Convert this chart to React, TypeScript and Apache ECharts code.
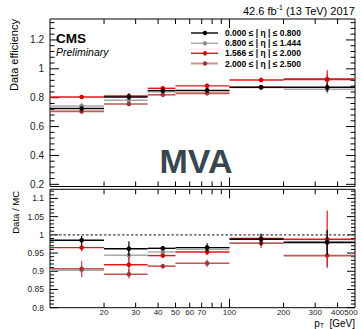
import React, { useEffect, useRef } from "react";
import * as echarts from "echarts";

// ---- data ----
const binLow = [10, 20, 35, 50, 100, 200];
const binHigh = [20, 35, 50, 100, 200, 500];
const binCenter = [15, 27.5, 42.5, 75, 150, 350];

const seriesNames = [
  "0.000 ≤ | η | ≤ 0.800",
  "0.800 ≤ | η | ≤ 1.444",
  "1.566 ≤ | η | ≤ 2.000",
  "2.000 ≤ | η | ≤ 2.500",
];

// efficiency (top panel)
const effBlack = [0.725, 0.805, 0.849, 0.851, 0.872, 0.872];
const effBlackErr = [0.02, 0.02, 0.012, 0.015, 0.012, 0.03];
const effGray = [0.742, 0.782, 0.84, 0.84, 0.87, 0.858];
const effGrayErr = [0.025, 0.02, 0.012, 0.015, 0.015, 0.03];
const effRed = [0.805, 0.812, 0.865, 0.882, 0.923, 0.925];
const effRedErr = [0.008, 0.02, 0.01, 0.01, 0.015, 0.065];
const effRose = [0.705, 0.756, 0.82, 0.83, 0.872, 0.93];
const effRoseErr = [0.015, 0.01, 0.008, 0.01, 0.015, 0.03];

// data / MC (bottom panel)
const sfBlack = [0.985, 0.962, 0.963, 0.965, 0.988, 0.979];
const sfBlackErr = [0.012, 0.02, 0.004, 0.012, 0.015, 0.034];
const sfGray = [0.903, 0.944, 0.953, 0.96, 0.977, 0.982];
const sfGrayErr = [0.02, 0.02, 0.006, 0.012, 0.012, 0.03];
const sfRed = [0.965, 0.918, 0.943, 0.953, 0.99, 0.988];
const sfRedErr = [0.01, 0.022, 0.005, 0.008, 0.012, 0.078];
const sfRose = [0.907, 0.892, 0.914, 0.922, 0.977, 0.943];
const sfRoseErr = [0.022, 0.012, 0.004, 0.01, 0.014, 0.03];

// axes / ticks
const xMin = 10;
const xMax = 500;
const topYMin = 0.185;
const topYMax = 1.345;
const botYMin = 0.8;
const botYMax = 1.125;
const topYLabels = [0.2, 0.4, 0.6, 0.8, 1.0, 1.2];
const botYLabels = [0.8, 0.85, 0.9, 0.95, 1.0, 1.05, 1.1];
const xTickValues = [20, 30, 40, 50, 60, 70, 80, 90, 100, 200, 300, 400];
const xLabelValues = [20, 30, 40, 50, 60, 70, 100, 200, 300, 400, 500];

const lineColors = ["#000000", "#a9a9a9", "#e3161b", "#c25656"];
const markerColors = ["#000000", "#8c8c8c", "#d40000", "#a03434"];
const legendLineColors = ["#000000", "#a9a9a9", "#e3161b", "#d39090"];

const FONT = "Liberation Sans, Arial, Helvetica, sans-serif";

function buildBins(vals: number[], errs: number[]) {
  return vals.map((v, i) => [binLow[i], binHigh[i], binCenter[i], v, errs[i]]);
}

function binRender(idx: number) {
  return (params: any, api: any) => {
    const lo = api.value(0);
    const hi = api.value(1);
    const xc = api.value(2);
    const y = api.value(3);
    const e = api.value(4);
    const p1 = api.coord([lo, y]);
    const p2 = api.coord([hi, y]);
    const pc = api.coord([xc, y]);
    const pt = api.coord([xc, y + e]);
    const pb = api.coord([xc, y - e]);
    const col = lineColors[idx];
    return {
      type: "group",
      children: [
        {
          type: "line",
          shape: { x1: p1[0], y1: p1[1], x2: p2[0], y2: p2[1] },
          style: { stroke: col, lineWidth: idx === 3 ? 1.6 : 1.4 },
        },
        {
          type: "line",
          shape: { x1: pt[0], y1: pt[1], x2: pb[0], y2: pb[1] },
          style: { stroke: col, lineWidth: 1.2 },
        },
        {
          type: "circle",
          shape: { cx: pc[0], cy: pc[1], r: 2.3 },
          style: { fill: markerColors[idx] },
        },
      ],
    };
  };
}

function xTickSeries(gridIdx: number, yLo: number, yHi: number, withLabels: boolean) {
  const data = withLabels
    ? Array.from(new Set([...xTickValues, ...xLabelValues])).map((v) => [v, yLo])
    : xTickValues.map((v) => [v, yLo]);
  return {
    type: "custom",
    xAxisIndex: gridIdx,
    yAxisIndex: gridIdx,
    silent: true,
    data,
    renderItem: (params: any, api: any) => {
      const v = api.value(0);
      const b = api.coord([v, yLo]);
      const t = api.coord([v, yHi]);
      const len = v === 100 ? 9 : 5;
      const children: any[] = [];
      if (xTickValues.indexOf(v) >= 0) {
        children.push({
          type: "line",
          shape: { x1: b[0], y1: b[1], x2: b[0], y2: b[1] - len },
          style: { stroke: "#000", lineWidth: 1 },
        });
        children.push({
          type: "line",
          shape: { x1: t[0], y1: t[1], x2: t[0], y2: t[1] + len },
          style: { stroke: "#000", lineWidth: 1 },
        });
      }
      if (withLabels && xLabelValues.indexOf(v) >= 0) {
        children.push({
          type: "text",
          x: v === 500 ? b[0] - 4 : b[0],
          y: b[1] + 1,
          style: {
            text: String(v),
            fontSize: 8,
            fontFamily: FONT,
            fill: "#222",
            align: "center",
            verticalAlign: "top",
          },
        });
      }
      return { type: "group", children };
    },
  };
}

function yTickSeries(gridIdx: number, yLo: number, yHi: number, major: number, minor: number, majLen: number) {
  const data: number[][] = [];
  const n = Math.round((yHi - yLo) / minor) + 2;
  const start = Math.ceil(yLo / minor - 1e-6) * minor;
  for (let k = 0; k < n; k++) {
    const v = +(start + k * minor).toFixed(4);
    if (v > yHi + 1e-9) break;
    const isMaj = Math.abs(v / major - Math.round(v / major)) < 1e-6 ? 1 : 0;
    data.push([xMin, v, isMaj]);
  }
  return {
    type: "custom",
    xAxisIndex: gridIdx,
    yAxisIndex: gridIdx,
    silent: true,
    data,
    renderItem: (params: any, api: any) => {
      const v = api.value(1);
      const isMaj = api.value(2) === 1;
      const l = api.coord([xMin, v]);
      const r = api.coord([xMax, v]);
      const len = isMaj ? majLen : majLen / 2;
      return {
        type: "group",
        children: [
          {
            type: "line",
            shape: { x1: l[0], y1: l[1], x2: l[0] + len, y2: l[1] },
            style: { stroke: "#000", lineWidth: 1 },
          },
          {
            type: "line",
            shape: { x1: r[0], y1: r[1], x2: r[0] - len, y2: r[1] },
            style: { stroke: "#000", lineWidth: 1 },
          },
        ],
      };
    },
  };
}

const effSets = [
  buildBins(effBlack, effBlackErr),
  buildBins(effGray, effGrayErr),
  buildBins(effRed, effRedErr),
  buildBins(effRose, effRoseErr),
];
const sfSets = [
  buildBins(sfBlack, sfBlackErr),
  buildBins(sfGray, sfGrayErr),
  buildBins(sfRed, sfRedErr),
  buildBins(sfRose, sfRoseErr),
];

export default function App() {
  const ref = useRef<HTMLDivElement>(null);
  useEffect(() => {
    document.body.style.margin = "0";
    if (!ref.current) return;
    const chart = echarts.init(ref.current, null, { renderer: "svg" });

    const drawOrder = [1, 3, 2, 0];
    const series: any[] = [];
    series.push(yTickSeries(0, topYMin, topYMax, 0.2, 0.04, 9));
    series.push(yTickSeries(1, botYMin, botYMax, 0.05, 0.01, 8));
    series.push(xTickSeries(0, topYMin, topYMax, false));
    series.push(xTickSeries(1, botYMin, botYMax, true));
    series.push({
      type: "line",
      xAxisIndex: 1,
      yAxisIndex: 1,
      data: [
        [xMin, 1],
        [xMax, 1],
      ],
      symbol: "none",
      silent: true,
      lineStyle: { color: "#444", width: 1.4, type: [2.5, 2] },
    });
    drawOrder.forEach((i) => {
      series.push({
        type: "custom",
        name: seriesNames[i],
        xAxisIndex: 0,
        yAxisIndex: 0,
        data: effSets[i],
        renderItem: binRender(i),
        encode: { x: [0, 1, 2], y: 3 },
      });
      series.push({
        type: "custom",
        name: seriesNames[i] + " ratio",
        xAxisIndex: 1,
        yAxisIndex: 1,
        data: sfSets[i],
        renderItem: binRender(i),
        encode: { x: [0, 1, 2], y: 3 },
      });
    });

    const legendGraphics: any[] = [];
    const legendY = [33, 43.3, 53.3, 63.5];
    seriesNames.forEach((name, i) => {
      legendGraphics.push({
        type: "line",
        shape: { x1: 191, y1: legendY[i], x2: 218, y2: legendY[i] },
        style: { stroke: legendLineColors[i], lineWidth: i === 3 ? 2 : 1.4 },
      });
      legendGraphics.push({
        type: "circle",
        shape: { cx: 205, cy: legendY[i], r: 2.2 },
        style: { fill: markerColors[i] },
      });
      legendGraphics.push({
        type: "text",
        x: 225,
        y: legendY[i],
        style: {
          text: name,
          fontSize: 8.5,
          fontWeight: "bold",
          fontFamily: FONT,
          fill: "#000",
          align: "left",
          verticalAlign: "middle",
        },
      });
    });

    chart.setOption({
      animation: false,
      grid: [
        { left: 50, right: 7, top: 19, height: 167.5, show: true, borderColor: "#000", borderWidth: 1, backgroundColor: "transparent" },
        { left: 50, right: 7, top: 189.3, height: 118.4, show: true, borderColor: "#000", borderWidth: 1, backgroundColor: "transparent" },
      ],
      xAxis: [0, 1].map((g) => ({
        type: "log",
        logBase: 10,
        gridIndex: g,
        min: xMin,
        max: xMax,
        axisLabel: { show: false },
        axisTick: { show: false },
        axisLine: { show: false },
        splitLine: { show: false },
      })),
      yAxis: [
        {
          type: "value",
          gridIndex: 0,
          min: topYMin,
          max: topYMax,
          axisLabel: { customValues: topYLabels, fontSize: 10, fontFamily: FONT, color: "#222", margin: 6 },
          axisTick: { show: false },
          axisLine: { show: false },
          splitLine: { show: false },
        },
        {
          type: "value",
          gridIndex: 1,
          min: botYMin,
          max: botYMax,
          axisLabel: { customValues: botYLabels, fontSize: 8.5, fontFamily: FONT, color: "#222", margin: 6 },
          axisTick: { show: false },
          axisLine: { show: false },
          splitLine: { show: false },
        },
      ],
      series,
      graphic: [
        {
          type: "text",
          right: 7,
          top: 4,
          style: {
            text: "42.6 fb{sup|-1} (13 TeV) 2017",
            fontSize: 11,
            fontFamily: FONT,
            fill: "#000",
            rich: { sup: { fontSize: 7, verticalAlign: "top", padding: [0, 0, 6, 0], fontFamily: FONT } },
          },
        },
        {
          type: "text",
          x: 56,
          y: 38,
          style: { text: "CMS", fontSize: 13.5, fontWeight: "bold", fontFamily: FONT, fill: "#000", verticalAlign: "middle" },
        },
        {
          type: "text",
          x: 56,
          y: 52,
          style: { text: "Preliminary", fontSize: 10.5, fontStyle: "italic", fontFamily: FONT, fill: "#000", verticalAlign: "middle" },
        },
        {
          type: "text",
          x: 196,
          y: 161,
          style: {
            text: "MVA",
            fontSize: 34,
            fontWeight: "bold",
            fontFamily: FONT,
            fill: "#37474f",
            align: "center",
            verticalAlign: "middle",
          },
        },
        {
          type: "text",
          x: 14,
          y: 19,
          rotation: Math.PI / 2,
          style: { text: "Data efficiency", fontSize: 11, fontFamily: FONT, fill: "#000", align: "right", verticalAlign: "middle" },
        },
        {
          type: "text",
          x: 15,
          y: 191,
          rotation: Math.PI / 2,
          style: { text: "Data / MC", fontSize: 9.5, fontFamily: FONT, fill: "#000", align: "right", verticalAlign: "middle" },
        },
        {
          type: "text",
          right: 7,
          top: 318,
          style: {
            text: "p{sub|T}  [GeV]",
            fontSize: 10,
            fontFamily: FONT,
            fill: "#000",
            rich: { sub: { fontSize: 6.5, verticalAlign: "bottom", padding: [5, 0, 0, 0], fontFamily: FONT } },
          },
        },
        ...legendGraphics,
      ],
    });
    return () => chart.dispose();
  }, []);
  return <div ref={ref} style={{ width: 362, height: 329 }} />;
}
